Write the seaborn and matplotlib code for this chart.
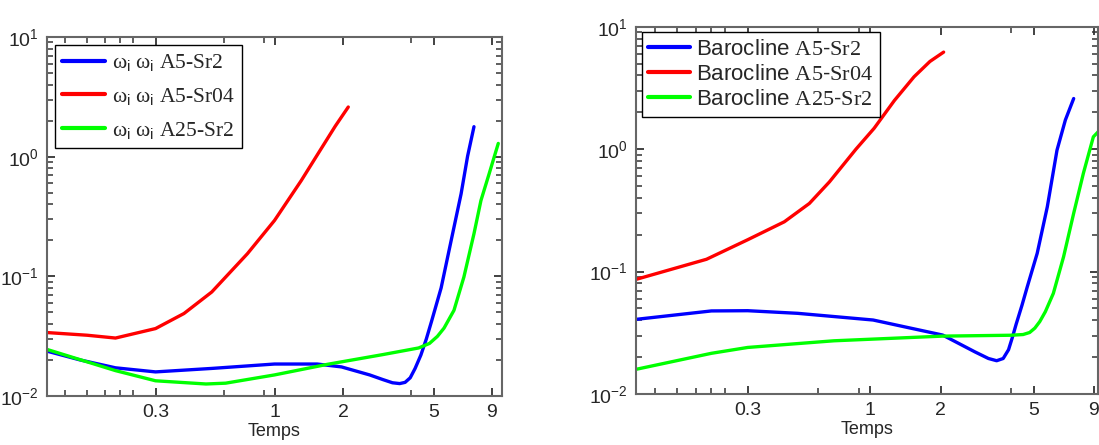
import pandas as pd
import matplotlib
matplotlib.use('Agg')
import matplotlib.pyplot as plt
import matplotlib.ticker as mticker
import seaborn as sns

# left panel: omega_i omega_i vs temps
t_w_a5_sr2 = [0.1, 0.14, 0.2, 0.3, 0.53, 1.0, 1.54, 1.97, 2.62, 3.0, 3.3, 3.55, 3.75, 3.95, 4.15, 4.4, 4.65, 4.9, 5.4, 5.98, 6.61, 7.06, 7.53]
w_a5_sr2 = [0.0237, 0.0200, 0.0172, 0.0159, 0.0170, 0.0185, 0.0185, 0.0175, 0.0150, 0.0137, 0.0129, 0.0127, 0.0130, 0.0142, 0.0170, 0.0220, 0.030, 0.042, 0.080, 0.20, 0.489, 1.01, 1.78]

t_w_a5_sr04 = [0.1, 0.15, 0.2, 0.3, 0.4, 0.53, 0.76, 1.0, 1.31, 1.61, 1.85, 2.11]
w_a5_sr04 = [0.0339, 0.0322, 0.0305, 0.0366, 0.0489, 0.074, 0.1545, 0.293, 0.63, 1.18, 1.8, 2.6]

t_w_a25_sr2 = [0.1, 0.2, 0.3, 0.5, 0.61, 1.0, 1.71, 3.0, 4.3, 4.8, 5.2, 5.56, 6.15, 6.8, 7.53, 8.08, 8.78, 9.63]
w_a25_sr2 = [0.0245, 0.0163, 0.0134, 0.0126, 0.0128, 0.0150, 0.0184, 0.0222, 0.0252, 0.0275, 0.0315, 0.0369, 0.052, 0.0987, 0.227, 0.43, 0.72, 1.29]

# right panel: barocline vs temps
t_b_a5_sr2 = [0.1, 0.21, 0.3, 0.49, 1.03, 1.4, 2.04, 2.8, 3.2, 3.47, 3.7, 3.9, 4.05, 4.2, 4.45, 4.69, 5.17, 5.71, 6.28, 6.82, 7.4]
b_a5_sr2 = [0.0407, 0.0477, 0.0479, 0.0456, 0.0402, 0.0354, 0.0303, 0.0221, 0.0195, 0.0187, 0.0195, 0.0230, 0.029, 0.037, 0.053, 0.0752, 0.141, 0.338, 0.98, 1.73, 2.59]

t_b_a5_sr04 = [0.1, 0.2, 0.3, 0.43, 0.55, 0.67, 0.87, 1.04, 1.27, 1.54, 1.8, 2.06]
b_a5_sr04 = [0.0863, 0.126, 0.182, 0.255, 0.36, 0.54, 1.0, 1.48, 2.5, 3.9, 5.2, 6.2]

t_b_a25_sr2 = [0.1, 0.21, 0.3, 0.7, 2.04, 4.0, 4.5, 4.8, 5.05, 5.3, 5.6, 6.06, 6.7, 7.4, 8.14, 8.98, 9.63]
b_a25_sr2 = [0.0159, 0.0215, 0.024, 0.0272, 0.0297, 0.0302, 0.0306, 0.0318, 0.0345, 0.039, 0.047, 0.0664, 0.132, 0.299, 0.634, 1.26, 1.45]

labels_left = [r'ω$_\mathsf{i}$ ω$_\mathsf{i}$ A5-Sr2', r'ω$_\mathsf{i}$ ω$_\mathsf{i}$ A5-Sr04', r'ω$_\mathsf{i}$ ω$_\mathsf{i}$ A25-Sr2']
labels_right = [r'Barocline $\mathrm{A5}$-$\mathrm{Sr2}$', r'Barocline $\mathrm{A5}$-$\mathrm{Sr04}$', r'Barocline $\mathrm{A25}$-$\mathrm{Sr2}$']
colors = ['#0000ff', '#ff0000', '#00ff00']

x_ticks = [0.3, 1, 2, 5, 9]
x_ticklabels = ['0.3', '1', '2', '5', '9']
x_minor = [0.12, 0.15, 0.18, 0.21, 0.24, 0.6, 0.9, 4]


def make_df(ts, vs, labels):
    parts = []
    for t, v, lab in zip(ts, vs, labels):
        parts.append(pd.DataFrame({'Temps': t, 'val': v, 'serie': lab}))
    return pd.concat(parts, ignore_index=True)


sns.set_theme(style='white')
plt.rcParams['font.family'] = ['Liberation Sans', 'DejaVu Sans']
plt.rcParams['mathtext.fontset'] = 'custom'
plt.rcParams['mathtext.rm'] = 'Liberation Serif'
plt.rcParams['mathtext.sf'] = 'Liberation Sans'
plt.rcParams['mathtext.it'] = 'Liberation Serif:italic'

fig = plt.figure(figsize=(10.99, 4.45), dpi=100)
ax1 = fig.add_axes([47 / 1099, 1 - 396 / 445, 455 / 1099, 359 / 445])
ax2 = fig.add_axes([636 / 1099, 1 - 394 / 445, 462 / 1099, 367.3 / 445])

df_left = make_df([t_w_a5_sr2, t_w_a5_sr04, t_w_a25_sr2], [w_a5_sr2, w_a5_sr04, w_a25_sr2], labels_left)
df_right = make_df([t_b_a5_sr2, t_b_a5_sr04, t_b_a25_sr2], [b_a5_sr2, b_a5_sr04, b_a25_sr2], labels_right)

for ax, df, labels, xmax in [(ax1, df_left, labels_left, 10), (ax2, df_right, labels_right, 9.4)]:
    sns.lineplot(data=df, x='Temps', y='val', hue='serie', hue_order=labels,
                 palette=colors, sort=False, linewidth=2.4, ax=ax)
    ax.set_xscale('log')
    ax.set_yscale('log')
    ax.set_xlim(0.1, xmax)
    ax.set_ylim(0.01, 10)
    ax.set_xticks(x_ticks)
    ax.set_xticklabels(x_ticklabels)
    ax.set_xticks(x_minor, minor=True)
    ax.xaxis.set_minor_formatter(mticker.NullFormatter())
    ax.yaxis.set_major_locator(mticker.LogLocator(base=10, numticks=10))
    ax.yaxis.set_minor_locator(mticker.LogLocator(base=10, subs=range(2, 10), numticks=10))
    ax.yaxis.set_minor_formatter(mticker.NullFormatter())
    ax.tick_params(which='both', direction='in', bottom=True, left=True, top=True, right=True,
                   color='#333333')
    ax.tick_params(which='major', length=6, width=1.3, labelsize=14, pad=6)
    ax.tick_params(which='minor', length=4, width=1.1)
    for s in ax.spines.values():
        s.set_color('#666666')
        s.set_linewidth(1.5)
    ax.set_xlabel('Temps', fontsize=13, labelpad=1)
    ax.set_ylabel('')

leg1 = ax1.legend(loc='upper left', frameon=True, fancybox=False, framealpha=1,
                  edgecolor='black', prop={'family': 'Liberation Serif', 'size': 15.5},
                  handlelength=2.0, handletextpad=0.3, labelspacing=0.6,
                  borderpad=0.35, borderaxespad=0.35)
leg1.get_frame().set_linewidth(1.0)
for line in leg1.get_lines():
    line.set_linewidth(3)

leg2 = ax2.legend(loc='upper left', frameon=True, fancybox=False, framealpha=1,
                  edgecolor='black', prop={'family': 'Liberation Sans', 'size': 16},
                  handlelength=1.9, handletextpad=0.25, labelspacing=0.18,
                  borderpad=0.3, borderaxespad=0.25)
leg2.get_frame().set_linewidth(1.0)
for line in leg2.get_lines():
    line.set_linewidth(3)

fig.savefig('out.png', dpi=100, facecolor='white')
